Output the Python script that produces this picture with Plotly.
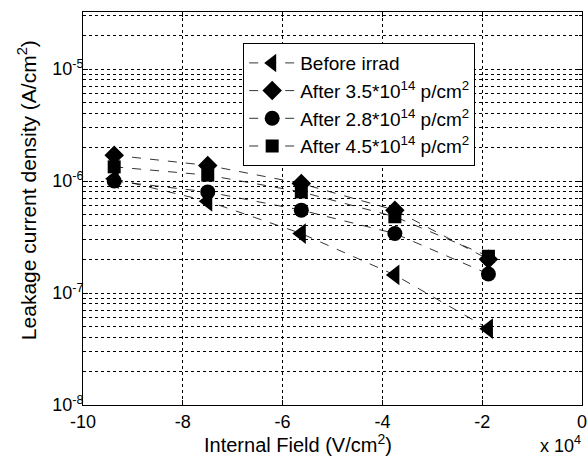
import plotly.graph_objects as go

# Internal field (V/cm^2)
field = [-93750, -75000, -56250, -37500, -18750]

# Leakage current density (A/cm^2)
before_irrad = [1.05e-6, 6.6e-7, 3.4e-7, 1.45e-7, 4.8e-8]
after_35 = [1.7e-6, 1.38e-6, 9.5e-7, 5.5e-7, 2.0e-7]
after_28 = [1.0e-6, 8.0e-7, 5.5e-7, 3.4e-7, 1.48e-7]
after_45 = [1.34e-6, 1.13e-6, 8.0e-7, 4.8e-7, 2.13e-7]

series = [
    ("Before irrad", before_irrad, "triangle-left", 18),
    ("After 3.5*10<sup>14</sup> p/cm<sup>2</sup>", after_35, "diamond", 15),
    ("After 2.8*10<sup>14</sup> p/cm<sup>2</sup>", after_28, "circle", 15),
    ("After 4.5*10<sup>14</sup> p/cm<sup>2</sup>", after_45, "square", 13),
]

x_tickvals = [-100000, -80000, -60000, -40000, -20000, 0]
x_ticktext = ["-10", "-8", "-6", "-4", "-2", "0"]

y_tickvals = [1e-8, 1e-7, 1e-6, 1e-5]
y_ticktext = ["10<sup>-8</sup>", "10<sup>-7</sup>", "10<sup>-6</sup>", "10<sup>-5</sup>"]

x_title = "Internal Field (V/cm<sup>2</sup>)"
y_title = "Leakage current density (A/cm<sup>2</sup>)"

FONT = "Liberation Sans, Arial, Helvetica, sans-serif"

fig = go.Figure()
for name, vals, sym, sz in series:
    fig.add_trace(go.Scatter(
        x=field, y=vals, name=name, mode="lines+markers",
        line=dict(color="black", width=0.8, dash="dash"),
        marker=dict(symbol=sym, size=sz, color="black"),
    ))

fig.update_layout(
    width=588, height=458,
    margin=dict(l=83, r=6, t=12, b=53, autoexpand=False),
    paper_bgcolor="white", plot_bgcolor="white",
    font=dict(family=FONT, size=18, color="black"),
    showlegend=True,
    legend=dict(
        x=0.321, y=0.921, xanchor="left", yanchor="top",
        bgcolor="white", bordercolor="black", borderwidth=1,
        font=dict(size=19, family=FONT), tracegroupgap=0,
        itemwidth=46,
    ),
    annotations=[
        dict(text="x 10<sup>4</sup>", x=1.002, y=-0.1, xref="paper", yref="paper",
             xanchor="right", yanchor="middle", showarrow=False,
             font=dict(size=18, family=FONT)),
        dict(text=x_title, x=0.431, y=-0.097, xref="paper", yref="paper",
             xanchor="center", yanchor="middle", showarrow=False,
             font=dict(size=20, family=FONT)),
        dict(text=y_title, x=-0.112, y=0.547, xref="paper", yref="paper",
             xanchor="center", yanchor="middle", showarrow=False, textangle=-90,
             font=dict(size=21, family=FONT)),
    ],
)

fig.update_xaxes(
    range=[-100000, 0], tickvals=x_tickvals, ticktext=x_ticktext,
    showline=True, linecolor="black", linewidth=1, mirror="ticks",
    ticks="inside", ticklen=5, tickcolor="black",
    showgrid=True, gridcolor="black", gridwidth=0.7, griddash="dot",
    zeroline=False, automargin=False, ticklabeloverflow="allow",
    tickfont=dict(size=18, family=FONT),
)

fig.update_yaxes(
    type="log", range=[-8, -4.49], tickvals=y_tickvals, ticktext=y_ticktext,
    showline=True, linecolor="black", linewidth=1, mirror="ticks",
    ticks="inside", ticklen=5, tickcolor="black",
    showgrid=True, gridcolor="black", gridwidth=0.7, griddash="dot",
    minor=dict(showgrid=True, dtick="D1", gridcolor="black", gridwidth=0.7,
               griddash="dot", ticks="inside", ticklen=3, tickcolor="black"),
    zeroline=False, automargin=False, ticklabeloverflow="allow",
    ticklabelstandoff=-5,
    tickfont=dict(size=18, family=FONT),
)

fig.write_html(
    "out.html",
    config={"displayModeBar": False},
    post_script="document.body.style.margin='0';document.body.style.padding='0';",
)
